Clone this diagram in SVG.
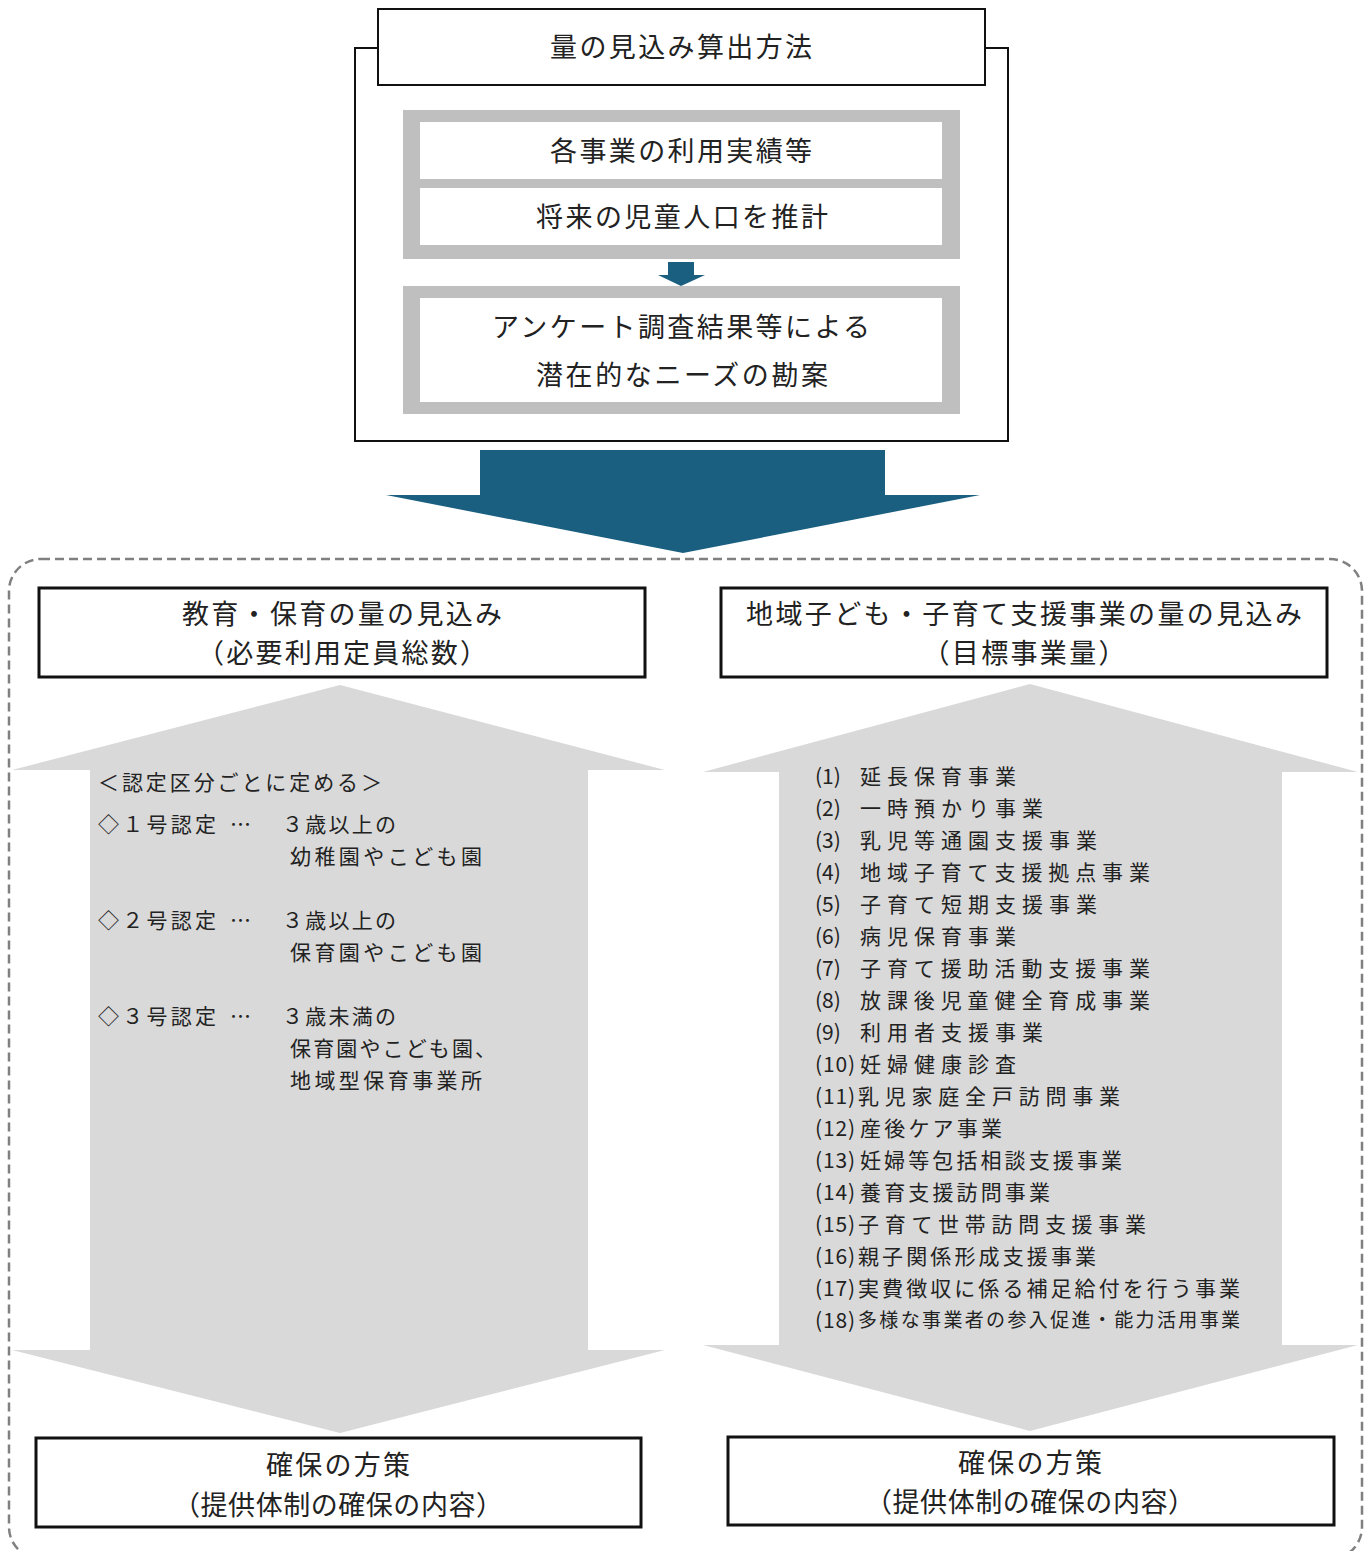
<svg xmlns="http://www.w3.org/2000/svg" width="1366" height="1551" viewBox="0 0 1366 1551">
<style>
text{font-family:"Noto Sans CJK JP","Noto Sans",sans-serif;fill:#222;}
.t26{font-size:27px;text-anchor:middle;}
.t21{font-size:21px;}
.box{fill:#fff;stroke:#111;stroke-width:3;}
.gframe{fill:#bfbfbf;}
.white{fill:#fff;}
.garrow{fill:#d9d9d9;}
</style>
<rect width="1366" height="1551" fill="#fff"/>
<g id="connectors">
<path d="M480,450 H885 V495 H980 L683,553 L386,495 H480 Z" fill="#1a5f80"/>
<path d="M668,262 H694 V275 H705 L681,286 L658,275 H668 Z" fill="#1a5f80"/>
</g>
<g id="method">
<path d="M378,48 H355 V441 H1008 V48 H985" fill="none" stroke="#111" stroke-width="2"/>
<rect x="378" y="9" width="607" height="76" fill="#fff" stroke="#111" stroke-width="2"/>
<text class="t26" x="681" y="57" textLength="262">量の見込み算出方法</text>
</g>
<g id="frame1">
<rect class="gframe" x="403" y="110" width="557" height="149"/>
<rect class="white" x="420" y="122" width="522" height="57"/>
<rect class="white" x="420" y="188" width="522" height="57"/>
<text class="t26" x="681" y="161" textLength="262">各事業の利用実績等</text>
<text class="t26" x="682" y="227" textLength="292">将来の児童人口を推計</text>
</g>
<g id="frame2">
<rect class="gframe" x="403" y="286" width="557" height="128"/>
<rect class="white" x="420" y="298" width="522" height="104"/>
<text class="t26" x="681" y="337" textLength="378">アンケート調査結果等による</text>
<text class="t26" x="682" y="385" textLength="292">潜在的なニーズの勘案</text>
</g>
<g id="outer">
<rect x="9" y="559" width="1353" height="1000" rx="32" ry="32" fill="none" stroke="#808080" stroke-width="2.5" stroke-dasharray="9,5"/>
</g>
<g id="left-arrow">
<path class="garrow" d="M340,685 L665,770 H588 V1350 H665 L340,1433 L12,1350 H90 V770 H12 Z"/>
</g>
<g id="right-arrow">
<path class="garrow" d="M1030,684 L1358,772 H1282 V1345 H1358 L1030,1431 L703,1345 H779 V772 H703 Z"/>
</g>
<g id="left-header">
<rect class="box" x="39" y="588" width="606" height="89"/>
<text class="t26" x="342" y="624" textLength="320">教育・保育の量の見込み</text>
<text class="t26" x="342" y="663" textLength="290">（必要利用定員総数）</text>
</g>
<g id="right-header">
<rect class="box" x="721" y="588" width="606" height="89"/>
<text class="t26" x="1024" y="624" textLength="556">地域子ども・子育て支援事業の量の見込み</text>
<text class="t26" x="1024" y="663" textLength="203">（目標事業量）</text>
</g>
<g id="left-content">
<text class="t21" x="98" y="790" textLength="284">＜認定区分ごとに定める＞</text>
<text class="t21" x="98" y="832" textLength="118">◇１号認定</text>
<text class="t21" x="230" y="832">…</text>
<text class="t21" x="282" y="832" textLength="114">３歳以上の</text>
<text class="t21" x="290" y="864" textLength="192">幼稚園やこども園</text>
<text class="t21" x="98" y="928" textLength="118">◇２号認定</text>
<text class="t21" x="230" y="928">…</text>
<text class="t21" x="282" y="928" textLength="114">３歳以上の</text>
<text class="t21" x="290" y="960" textLength="192">保育園やこども園</text>
<text class="t21" x="98" y="1024" textLength="118">◇３号認定</text>
<text class="t21" x="230" y="1024">…</text>
<text class="t21" x="282" y="1024" textLength="114">３歳未満の</text>
<text class="t21" x="290" y="1056" textLength="206">保育園やこども園、</text>
<text class="t21" x="290" y="1088" textLength="192">地域型保育事業所</text>
</g>
<g id="right-content">
<text class="t21" x="815" y="784">(1)</text><text class="t21" x="860" y="784" textLength="156">延長保育事業</text>
<text class="t21" x="815" y="816">(2)</text><text class="t21" x="860" y="816" textLength="183">一時預かり事業</text>
<text class="t21" x="815" y="848">(3)</text><text class="t21" x="860" y="848" textLength="237">乳児等通園支援事業</text>
<text class="t21" x="815" y="880">(4)</text><text class="t21" x="860" y="880" textLength="290">地域子育て支援拠点事業</text>
<text class="t21" x="815" y="912">(5)</text><text class="t21" x="860" y="912" textLength="237">子育て短期支援事業</text>
<text class="t21" x="815" y="944">(6)</text><text class="t21" x="860" y="944" textLength="156">病児保育事業</text>
<text class="t21" x="815" y="976">(7)</text><text class="t21" x="860" y="976" textLength="290">子育て援助活動支援事業</text>
<text class="t21" x="815" y="1008">(8)</text><text class="t21" x="860" y="1008" textLength="290">放課後児童健全育成事業</text>
<text class="t21" x="815" y="1040">(9)</text><text class="t21" x="860" y="1040" textLength="183">利用者支援事業</text>
<text class="t21" x="815" y="1072" textLength="40">(10)</text><text class="t21" x="860" y="1072" textLength="156">妊婦健康診査</text>
<text class="t21" x="815" y="1104" textLength="40">(11)</text><text class="t21" x="858" y="1104" textLength="262">乳児家庭全戸訪問事業</text>
<text class="t21" x="815" y="1136" textLength="40">(12)</text><text class="t21" x="860" y="1136" textLength="142">産後ケア事業</text>
<text class="t21" x="815" y="1168" textLength="40">(13)</text><text class="t21" x="860" y="1168" textLength="262">妊婦等包括相談支援事業</text>
<text class="t21" x="815" y="1200" textLength="40">(14)</text><text class="t21" x="860" y="1200" textLength="190">養育支援訪問事業</text>
<text class="t21" x="815" y="1232" textLength="40">(15)</text><text class="t21" x="858" y="1232" textLength="288">子育て世帯訪問支援事業</text>
<text class="t21" x="815" y="1264" textLength="40">(16)</text><text class="t21" x="858" y="1264" textLength="238">親子関係形成支援事業</text>
<text class="t21" x="815" y="1296" textLength="40">(17)</text><text class="t21" x="858" y="1296" textLength="382">実費徴収に係る補足給付を行う事業</text>
<text class="t21" x="815" y="1328" textLength="40">(18)</text><text x="858" y="1327" style="font-size:19px" textLength="382">多様な事業者の参入促進・能力活用事業</text>
</g>
<g id="left-footer">
<rect class="box" x="36" y="1438" width="605" height="89"/>
<text class="t26" x="338" y="1475" textLength="144">確保の方策</text>
<text class="t26" x="338" y="1515" textLength="330">（提供体制の確保の内容）</text>
</g>
<g id="right-footer">
<rect class="box" x="728" y="1437" width="606" height="88"/>
<text class="t26" x="1030" y="1473" textLength="144">確保の方策</text>
<text class="t26" x="1030" y="1512" textLength="330">（提供体制の確保の内容）</text>
</g>
</svg>
